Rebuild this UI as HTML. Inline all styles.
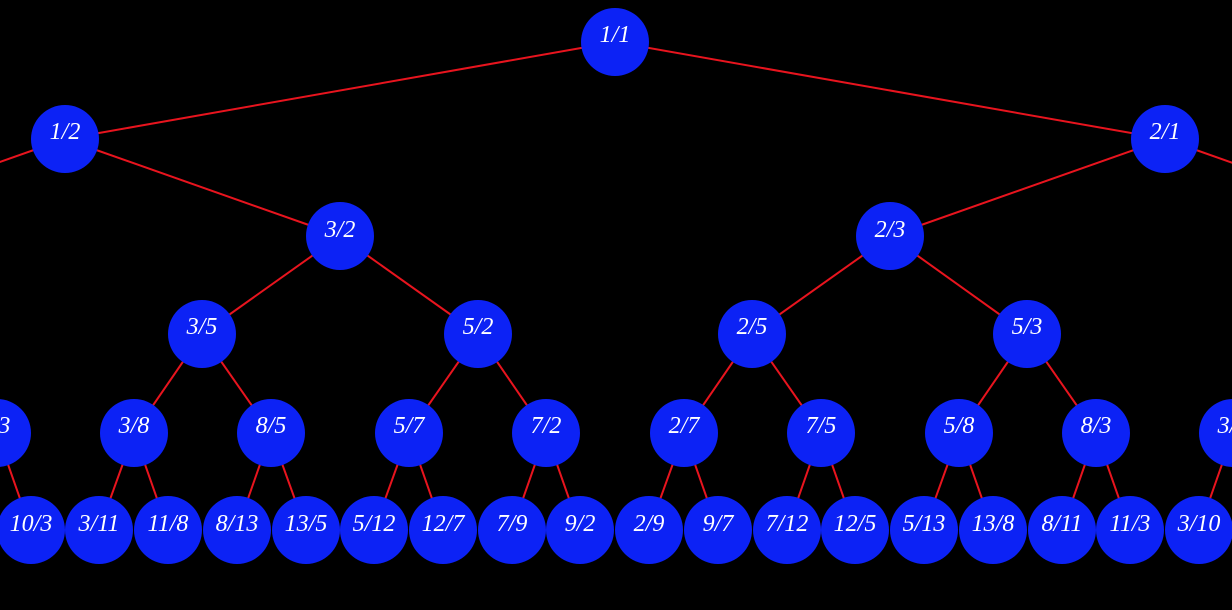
<!DOCTYPE html>
<html><head><style>html,body{margin:0;padding:0;background:#000;width:1232px;height:610px;overflow:hidden}</style></head>
<body>
<svg width="1232" height="610" xmlns="http://www.w3.org/2000/svg">
<g stroke="#e8141e" stroke-width="2">
<line x1="615" y1="42" x2="65" y2="139"/><line x1="615" y1="42" x2="1165" y2="139"/>
<line x1="65" y1="139" x2="-210" y2="236"/><line x1="65" y1="139" x2="340" y2="236"/>
<line x1="1165" y1="139" x2="890" y2="236"/><line x1="1165" y1="139" x2="1440" y2="236"/>
<line x1="340" y1="236" x2="202" y2="334"/><line x1="340" y1="236" x2="478" y2="334"/>
<line x1="890" y1="236" x2="752" y2="334"/><line x1="890" y1="236" x2="1027" y2="334"/>
<line x1="202" y1="334" x2="134" y2="433"/><line x1="202" y1="334" x2="271" y2="433"/>
<line x1="478" y1="334" x2="409" y2="433"/><line x1="478" y1="334" x2="546" y2="433"/>
<line x1="752" y1="334" x2="684" y2="433"/><line x1="752" y1="334" x2="821" y2="433"/>
<line x1="1027" y1="334" x2="959" y2="433"/><line x1="1027" y1="334" x2="1096" y2="433"/>
<line x1="-3" y1="433" x2="31" y2="530"/>
<line x1="134" y1="433" x2="99" y2="530"/><line x1="134" y1="433" x2="168" y2="530"/>
<line x1="271" y1="433" x2="237" y2="530"/><line x1="271" y1="433" x2="306" y2="530"/>
<line x1="409" y1="433" x2="374" y2="530"/><line x1="409" y1="433" x2="443" y2="530"/>
<line x1="546" y1="433" x2="512" y2="530"/><line x1="546" y1="433" x2="580" y2="530"/>
<line x1="684" y1="433" x2="649" y2="530"/><line x1="684" y1="433" x2="718" y2="530"/>
<line x1="821" y1="433" x2="787" y2="530"/><line x1="821" y1="433" x2="855" y2="530"/>
<line x1="959" y1="433" x2="924" y2="530"/><line x1="959" y1="433" x2="993" y2="530"/>
<line x1="1096" y1="433" x2="1062" y2="530"/><line x1="1096" y1="433" x2="1130" y2="530"/>
<line x1="1233" y1="433" x2="1199" y2="530"/>
</g>
<g fill="#0c22f5">
<circle cx="615" cy="42" r="34"/><circle cx="65" cy="139" r="34"/><circle cx="1165" cy="139" r="34"/>
<circle cx="340" cy="236" r="34"/><circle cx="890" cy="236" r="34"/>
<circle cx="202" cy="334" r="34"/><circle cx="478" cy="334" r="34"/><circle cx="752" cy="334" r="34"/><circle cx="1027" cy="334" r="34"/>
<circle cx="-3" cy="433" r="34"/><circle cx="134" cy="433" r="34"/><circle cx="271" cy="433" r="34"/><circle cx="409" cy="433" r="34"/><circle cx="546" cy="433" r="34"/><circle cx="684" cy="433" r="34"/><circle cx="821" cy="433" r="34"/><circle cx="959" cy="433" r="34"/><circle cx="1096" cy="433" r="34"/><circle cx="1233" cy="433" r="34"/>
<circle cx="31" cy="530" r="34"/><circle cx="99" cy="530" r="34"/><circle cx="168" cy="530" r="34"/><circle cx="237" cy="530" r="34"/><circle cx="306" cy="530" r="34"/><circle cx="374" cy="530" r="34"/><circle cx="443" cy="530" r="34"/><circle cx="512" cy="530" r="34"/><circle cx="580" cy="530" r="34"/><circle cx="649" cy="530" r="34"/><circle cx="718" cy="530" r="34"/><circle cx="787" cy="530" r="34"/><circle cx="855" cy="530" r="34"/><circle cx="924" cy="530" r="34"/><circle cx="993" cy="530" r="34"/><circle cx="1062" cy="530" r="34"/><circle cx="1130" cy="530" r="34"/><circle cx="1199" cy="530" r="34"/>
</g>
<g fill="#fff" font-family="Liberation Serif, serif" font-style="italic" font-size="24" text-anchor="middle">
<text x="615" y="42">1/1</text><text x="65" y="139">1/2</text><text x="1165" y="139">2/1</text>
<text x="340" y="237">3/2</text><text x="890" y="237">2/3</text>
<text x="202" y="334">3/5</text><text x="478" y="334">5/2</text><text x="752" y="334">2/5</text><text x="1027" y="334">5/3</text>
<text x="-5" y="433">7/3</text><text x="134" y="433">3/8</text><text x="271" y="433">8/5</text><text x="409" y="433">5/7</text><text x="546" y="433">7/2</text><text x="684" y="433">2/7</text><text x="821" y="433">7/5</text><text x="959" y="433">5/8</text><text x="1096" y="433">8/3</text><text x="1233" y="433">3/7</text>
<text x="31" y="531">10/3</text><text x="99" y="531">3/11</text><text x="168" y="531">11/8</text><text x="237" y="531">8/13</text><text x="306" y="531">13/5</text><text x="374" y="531">5/12</text><text x="443" y="531">12/7</text><text x="512" y="531">7/9</text><text x="580" y="531">9/2</text><text x="649" y="531">2/9</text><text x="718" y="531">9/7</text><text x="787" y="531">7/12</text><text x="855" y="531">12/5</text><text x="924" y="531">5/13</text><text x="993" y="531">13/8</text><text x="1062" y="531">8/11</text><text x="1130" y="531">11/3</text><text x="1199" y="531">3/10</text>
</g>
</svg>
</body></html>
